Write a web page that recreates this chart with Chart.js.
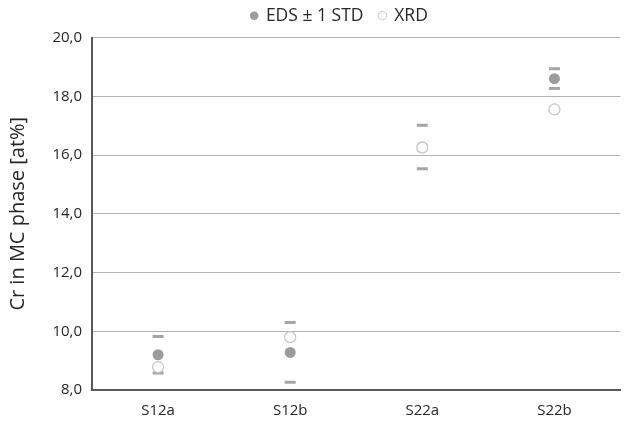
<!DOCTYPE html>
<html>
<head>
<meta charset="utf-8">
<script src="https://cdn.jsdelivr.net/npm/chart.js@4/dist/chart.umd.min.js"></script>
<style>
  html, body { margin: 0; padding: 0; background: #fff; overflow: hidden; }
  #wrap { position: relative; width: 629px; height: 423px; }
</style>
</head>
<body>
<div id="wrap"><canvas id="c"></canvas></div>
<script>
// Samples and measured Cr content of the MC phase (at%)
const samples = ['S12a', 'S12b', 'S22a', 'S22b'];
const edsMean = [9.2, 9.28, 16.27, 18.6];
const edsStd  = [0.62, 1.02, 0.74, 0.34];
const xrd     = [8.78, 9.8, 16.25, 17.55];
const yTicks  = [8, 10, 12, 14, 16, 18, 20];

const upper = edsMean.map((m, i) => m + edsStd[i]);
const lower = edsMean.map((m, i) => m - edsStd[i]);

const FONT = '"Open Sans", sans-serif';
const TXT = '#262626';

const dashStyle = {
  pointStyle: 'line',
  pointRadius: 5.5,
  pointBorderWidth: 3,
  pointBorderColor: '#a6a6a6',
  pointBackgroundColor: '#a6a6a6',
  showLine: false,
  order: 2
};

// Nudge the legend block so it sits centred over the full plot width
const legendShift = {
  id: 'legendShift',
  beforeDraw(chart) {
    const lg = chart.legend;
    if (!lg || lg._shifted) return;
    lg.left += 22; lg.right += 22;
    lg.top -= 3; lg.bottom -= 3;
    lg._shifted = true;
  },
  afterUpdate(chart) { if (chart.legend) chart.legend._shifted = false; }
};

new Chart(document.getElementById('c'), {
  type: 'line',
  data: {
    labels: samples,
    datasets: [
      {
        label: 'EDS ± 1 STD',
        data: edsMean,
        showLine: false,
        pointStyle: 'circle',
        pointRadius: 5.5,
        pointBorderWidth: 0,
        pointBackgroundColor: '#9c9c9c',
        pointBorderColor: '#9c9c9c',
        backgroundColor: '#9c9c9c',
        borderColor: '#9c9c9c',
        order: 1
      },
      {
        label: 'XRD',
        data: xrd,
        showLine: false,
        pointStyle: 'circle',
        pointRadius: 5.5,
        pointBorderWidth: 1.2,
        pointBackgroundColor: '#ffffff',
        pointBorderColor: '#c4c4c4',
        backgroundColor: '#ffffff',
        borderColor: '#c4c4c4',
        order: 0
      },
      Object.assign({ label: 'upper', data: upper }, dashStyle),
      Object.assign({ label: 'lower', data: lower }, dashStyle)
    ]
  },
  options: {
    responsive: true,
    maintainAspectRatio: false,
    animation: false,
    events: [],
    layout: { padding: { top: -6, right: 0, bottom: 0, left: 6 } },
    plugins: {
      tooltip: { enabled: false },
      legend: {
        position: 'top',
        align: 'center',
        labels: {
          filter: (item) => item.datasetIndex < 2,
          sort: (a, b) => a.datasetIndex - b.datasetIndex,
          generateLabels: (chart) => {
            const items = Chart.defaults.plugins.legend.labels.generateLabels(chart);
            items.forEach(it => { it.pointStyle = 'circle'; it.lineWidth = it.datasetIndex === 1 ? 1 : 0; });
            return items;
          },
          usePointStyle: true,
          boxWidth: 6,
          boxHeight: 6,
          padding: 16,
          color: TXT,
          font: { family: FONT, size: 17.5 }
        }
      }
    },
    scales: {
      x: {
        type: 'category',
        offset: true,
        grid: { display: false, drawTicks: false },
        border: { display: true, color: '#595959', width: 2 },
        ticks: {
          color: TXT,
          padding: 12,
          font: { family: FONT, size: 15 }
        },
        afterFit: (s) => { s.height = 33; }
      },
      y: {
        min: 8,
        max: 20,
        afterBuildTicks: (s) => { s.ticks = yTicks.map(v => ({ value: v })); },
        grid: { color: '#b3b3b3', lineWidth: 1, drawTicks: false },
        border: { display: true, color: '#595959', width: 2 },
        ticks: {
          color: TXT,
          padding: 10,
          font: { family: FONT, size: 15 },
          callback: (v) => v.toFixed(1).replace('.', ',')
        },
        title: {
          display: true,
          text: 'Cr in MC phase [at%]',
          color: TXT,
          padding: { top: 0, bottom: 4 },
          font: { family: FONT, size: 20 }
        },
        afterFit: (s) => { s.width = 86; }
      }
    }
  },
  plugins: [legendShift]
});
</script>
</body>
</html>
